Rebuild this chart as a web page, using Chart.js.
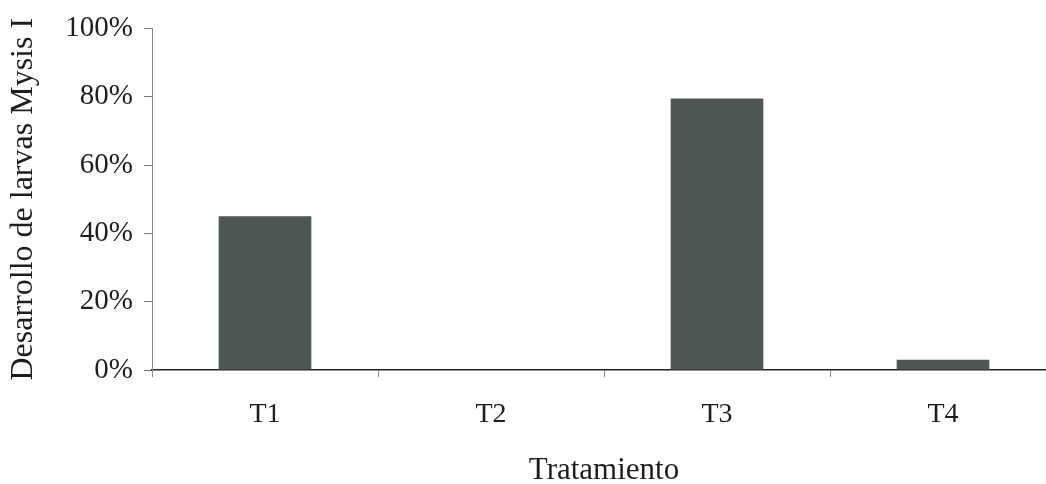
<!DOCTYPE html>
<html>
<head>
<meta charset="utf-8">
<script src="https://cdn.jsdelivr.net/npm/chart.js@4.4.0/dist/chart.umd.min.js"></script>
<style>
  html, body { margin: 0; padding: 0; background: #ffffff; overflow: hidden; }
  #wrap { width: 1060px; height: 484px; }
</style>
</head>
<body>
<div id="wrap"><canvas id="c" width="1060" height="484"></canvas></div>
<script>
// Treatments and share of larvae reaching Mysis I (percent)
const categories = ['T1', 'T2', 'T3', 'T4'];
const mysisDevelopment = [45, 0, 79.5, 3];
const yTickValues = [0, 20, 40, 60, 80, 100];

const serif = '"Liberation Serif", "Times New Roman", serif';
const ink = '#1e1e1e';

new Chart(document.getElementById('c'), {
  type: 'bar',
  data: {
    labels: categories,
    datasets: [{
      data: mysisDevelopment,
      backgroundColor: '#4f5752',
      borderWidth: 0,
      barPercentage: 0.41,
      categoryPercentage: 1.0
    }]
  },
  options: {
    responsive: false,
    animation: false,
    devicePixelRatio: 1,
    layout: { padding: { top: 26, right: 4, left: 0, bottom: 0 } },
    plugins: { legend: { display: false }, tooltip: { enabled: false } },
    scales: {
      x: {
        offset: true,
        afterFit(scale) { scale.height = 114; },
        grid: {
          offset: true,
          drawOnChartArea: false,
          drawTicks: true,
          tickLength: 7,
          tickColor: '#8a8a8a',
          tickWidth: 1
        },
        border: { display: true, color: '#222222', width: 1.6 },
        ticks: {
          color: ink,
          padding: 21,
          font: { family: serif, size: 28 }
        },
        title: {
          display: true,
          text: 'Tratamiento',
          color: ink,
          font: { family: serif, size: 31, lineHeight: 0.85 },
          padding: { top: 0, bottom: 0 }
        }
      },
      y: {
        min: 0,
        max: 100,
        afterFit(scale) { scale.width = 152; },
        afterBuildTicks(scale) { scale.ticks = yTickValues.map(v => ({ value: v })); },
        grid: {
          drawOnChartArea: false,
          drawTicks: true,
          tickLength: 8,
          tickColor: '#777777',
          tickWidth: 1
        },
        border: { display: true, color: '#8a8a8a', width: 1 },
        ticks: {
          color: ink,
          padding: 11,
          font: { family: serif, size: 29 },
          callback: v => v + '%'
        },
        title: {
          display: true,
          text: 'Desarrollo de larvas Mysis I',
          color: ink,
          font: { family: serif, size: 32, lineHeight: 1 },
          padding: { top: 8, bottom: 0 }
        }
      }
    }
  }
});
</script>
</body>
</html>
